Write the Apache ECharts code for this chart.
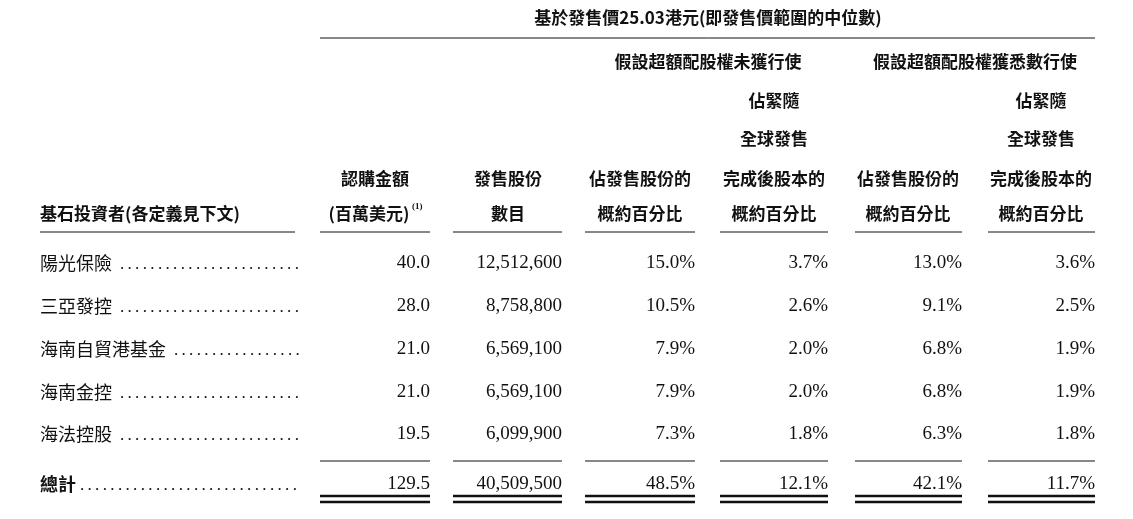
<!DOCTYPE html>
<html><head><meta charset="utf-8">
<script src="https://cdn.jsdelivr.net/npm/echarts@6/dist/echarts.min.js"></script>
<style>html,body{margin:0;padding:0;background:#fff}#main{width:1133px;height:519px}</style>
</head><body><div id="main"></div>
<script>
var investors = ['陽光保險', '三亞發控', '海南自貿港基金', '海南金控', '海法控股'];
var amounts = ['40.0', '28.0', '21.0', '21.0', '19.5'];
var shares = ['12,512,600', '8,758,800', '6,569,100', '6,569,100', '6,099,900'];
var pctNoOpt = ['15.0%', '10.5%', '7.9%', '7.9%', '7.3%'];
var capNoOpt = ['3.7%', '2.6%', '2.0%', '2.0%', '1.8%'];
var pctOpt = ['13.0%', '9.1%', '6.8%', '6.8%', '6.3%'];
var capOpt = ['3.6%', '2.5%', '1.9%', '1.9%', '1.8%'];
var totals = ['129.5', '40,509,500', '48.5%', '12.1%', '42.1%', '11.7%'];

var CJK = '"Noto Sans CJK TC", sans-serif';
var NUM = '"Liberation Serif", serif';
var color = '#111';
var colL = [320, 453, 585, 720, 855, 988];
var colR = [430, 562, 695, 828, 962, 1095];
var rowY = [263, 306, 349, 392, 434];
var totalY = 484;
var els = [];

function txt(x, y, s, align, font, size, weight) {
  els.push({type: 'text', x: x, y: y, style: {text: s, fill: color, align: align || 'left',
    verticalAlign: 'middle', font: (weight || 'normal') + ' ' + (size || 18) + 'px ' + (font || CJK)}});
}
function line(x1, y1, x2, y2, w) {
  els.push({type: 'line', shape: {x1: x1, y1: y1, x2: x2, y2: y2}, style: {stroke: color, lineWidth: w || 1}});
}
function dots(x0, y) {
  for (var x = x0; x <= 298; x += 7.6) txt(x, y, '.', 'center', NUM, 17);
}

// header
txt(708, 18, '基於發售價25.03港元(即發售價範圍的中位數)', 'center', CJK, 17, 'bold');
line(320, 38, 1095, 38);
txt(708, 62, '假設超額配股權未獲行使', 'center', CJK, 17, 'bold');
txt(975, 62, '假設超額配股權獲悉數行使', 'center', CJK, 17, 'bold');
[774, 1041].forEach(function (cx) {
  txt(cx, 101, '佔緊隨', 'center', CJK, 17, 'bold');
  txt(cx, 139, '全球發售', 'center', CJK, 17, 'bold');
  txt(cx, 179, '完成後股本的', 'center', CJK, 17, 'bold');
  txt(cx, 214, '概約百分比', 'center', CJK, 17, 'bold');
});
[640, 908].forEach(function (cx) {
  txt(cx, 179, '佔發售股份的', 'center', CJK, 17, 'bold');
  txt(cx, 214, '概約百分比', 'center', CJK, 17, 'bold');
});
txt(375, 179, '認購金額', 'center', CJK, 17, 'bold');
txt(369, 214, '(百萬美元)', 'center', CJK, 17, 'bold');
txt(412, 207, '(1)', 'left', NUM, 9, 'bold');
txt(508, 179, '發售股份', 'center', CJK, 17, 'bold');
txt(508, 214, '數目', 'center', CJK, 17, 'bold');
txt(40, 214, '基石投資者(各定義見下文)', 'left', CJK, 17, 'bold');
line(40, 232, 295, 232);
for (var c = 0; c < 6; c++) line(colL[c], 232, colR[c], 232);

// rows
var cols = [amounts, shares, pctNoOpt, capNoOpt, pctOpt, capOpt];
investors.forEach(function (name, i) {
  txt(40, rowY[i], name, 'left', CJK, 18);
  dots(40 + name.length * 18 + 10, rowY[i] + 2);
  for (var c = 0; c < 6; c++) txt(colR[c], rowY[i], cols[c][i], 'right', NUM, 19);
});
for (var c = 0; c < 6; c++) line(colL[c], 461, colR[c], 461);

// total
txt(40, totalY, '總計', 'left', CJK, 18, 'bold');
dots(82, totalY + 2);
for (var c = 0; c < 6; c++) {
  txt(colR[c], totalY, totals[c], 'right', NUM, 19);
  line(colL[c], 496, colR[c], 496, 2.5);
  line(colL[c], 502, colR[c], 502, 2.5);
}

var chart = echarts.init(document.getElementById('main'));
chart.setOption({backgroundColor: '#fff', graphic: {elements: els}});
</script></body></html>
